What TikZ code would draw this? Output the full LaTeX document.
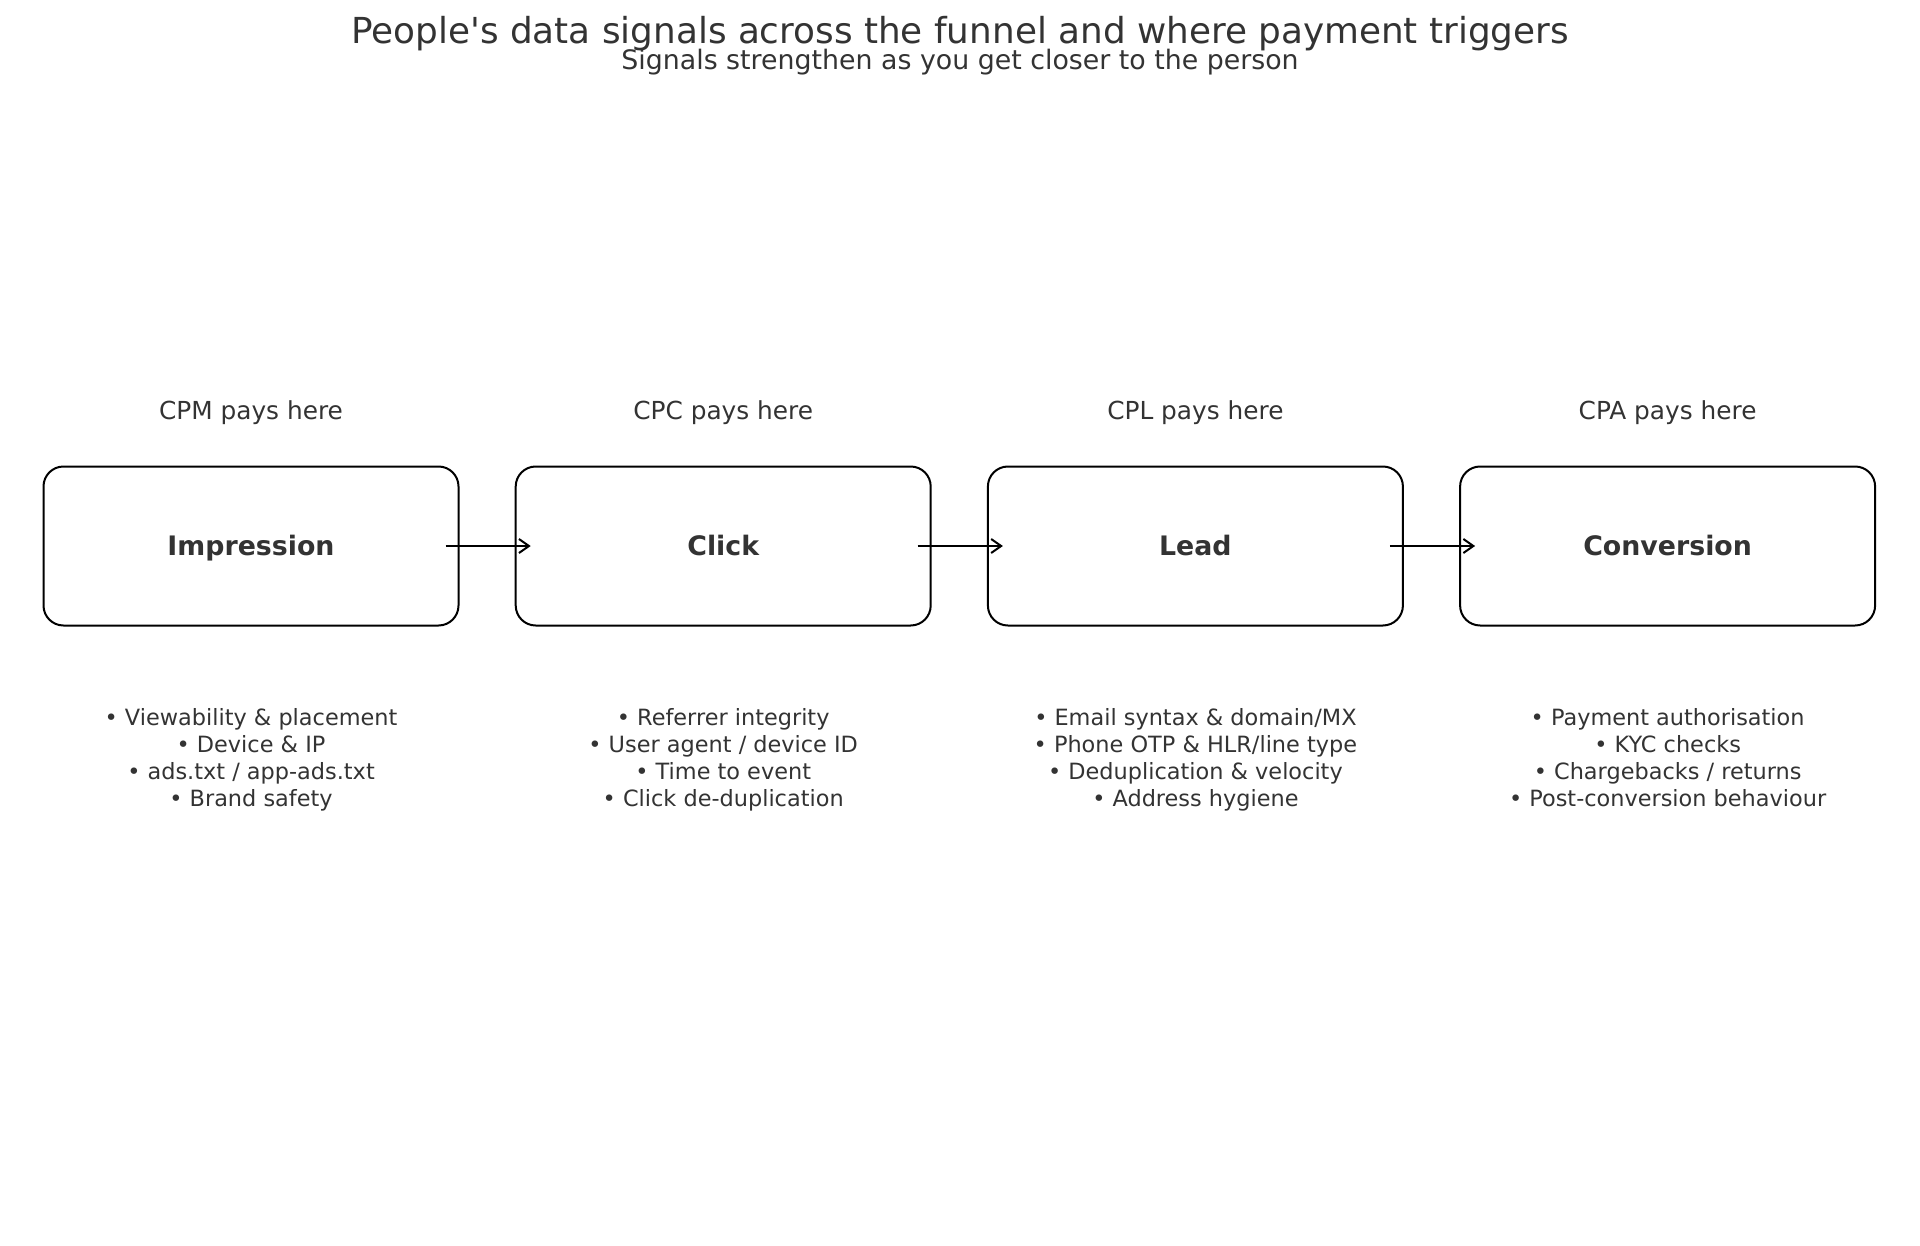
\documentclass[tikz,border=0pt]{standalone}
\usepackage{fontspec}
\setmainfont{DejaVu Sans}
\usetikzlibrary{positioning,arrows.meta}
\definecolor{txtgray}{HTML}{333333}

\begin{document}
\begin{tikzpicture}[
		x=1pt, y=1pt,
		node distance=27.6pt,
		stage/.style={
				draw,
				line width=1pt,
				rounded corners=10pt,
				text=txtgray,
				font=\fontsize{13.4}{16}\selectfont\bfseries,
				text height=9.8pt,
				text depth=0pt,
				minimum width=207.5pt,
				minimum height=79.5pt
			},
		payer/.style={text=txtgray, font=\fontsize{12.4}{14}\selectfont},
		signals/.style={
				text=txtgray,
				align=center,
				anchor=north,
				inner sep=0pt,
				font=\fontsize{11.2}{13.5}\selectfont
			},
		flow/.style={-{Straight Barb[length=5pt,width=7pt]}, line width=1pt}
	]
	\useasboundingbox (0,0) rectangle (960,-623);

	% titles
	\node[text=txtgray, font=\fontsize{17.9}{20}\selectfont] (title) at (480,-17)
	{People\textquotesingle s data signals across the funnel and where payment triggers};
	\node[text=txtgray, font=\fontsize{13.4}{15}\selectfont] (subtitle) at (480,-31)
	{Signals strengthen as you get closer to the person};

	% funnel stages
	\node[stage] (impression) at (125.5,-273) {Impression};
	\node[stage, right=of impression] (click) {Click};
	\node[stage, right=of click] (lead) {Lead};
	\node[stage, right=of lead] (conversion) {Conversion};

	% where payment triggers
	\node[payer] (cpm) at ([yshift=66.7pt]impression.center) {CPM pays here};
	\node[payer] (cpc) at ([yshift=66.7pt]click.center) {CPC pays here};
	\node[payer] (cpl) at ([yshift=66.7pt]lead.center) {CPL pays here};
	\node[payer] (cpa) at ([yshift=66.7pt]conversion.center) {CPA pays here};

	% signals per stage
	\node[signals] (sigimp) at ([yshift=-81pt]impression.center)
	{• Viewability \& placement \\ • Device \& IP \\ • ads.txt / app-ads.txt \\ • Brand safety};
	\node[signals] (sigclick) at ([yshift=-81pt]click.center)
	{• Referrer integrity \\ • User agent / device ID \\ • Time to event \\ • Click de-duplication};
	\node[signals] (siglead) at ([yshift=-81pt]lead.center)
	{• Email syntax \& domain/MX \\ • Phone OTP \& HLR/line type \\ • Deduplication \& velocity \\ • Address hygiene};
	\node[signals] (sigconv) at ([yshift=-81pt]conversion.center)
	{• Payment authorisation \\ • KYC checks \\ • Chargebacks / returns \\ • Post-conversion behaviour};

	% arrows
	\draw[flow] ([xshift=-7pt]impression.east) -- ([xshift=8pt]click.west);
	\draw[flow] ([xshift=-7pt]click.east) -- ([xshift=8pt]lead.west);
	\draw[flow] ([xshift=-7pt]lead.east) -- ([xshift=8pt]conversion.west);
\end{tikzpicture}
\end{document}
